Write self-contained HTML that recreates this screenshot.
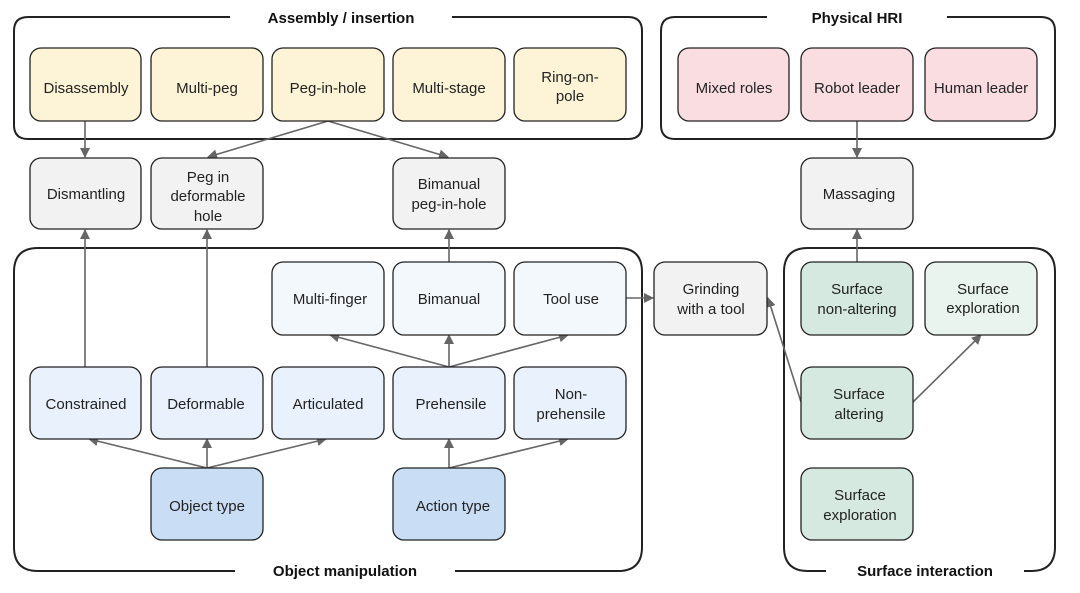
<!DOCTYPE html>
<html><head><meta charset="utf-8"><style>
html,body{margin:0;padding:0;background:#fff;}
svg{display:block;font-family:"Liberation Sans",Arial,sans-serif;}
.n{stroke:#222;stroke-width:1.3;}
.t{font-size:15px;fill:#222;text-anchor:middle;}
.h{font-size:15px;font-weight:bold;fill:#111;text-anchor:middle;}
.g{stroke:#222;stroke-width:2;fill:none;}
.a{stroke:#666;stroke-width:1.6;fill:none;marker-end:url(#ar);}
</style></head><body>
<svg width="1080" height="593" viewBox="0 0 1080 593">
<defs><marker id="ar" markerWidth="10" markerHeight="10" refX="9" refY="5" orient="auto" markerUnits="userSpaceOnUse"><path d="M0,0 L10,5 L0,10 z" fill="#666"/></marker></defs>
<!-- group boxes -->
<path class="g" d="M230,17 H28 Q14,17 14,31 V125 Q14,139 28,139 H628 Q642,139 642,125 V31 Q642,17 628,17 H452"/>
<text class="h" x="341" y="23">Assembly / insertion</text>
<path class="g" d="M767,17 H675 Q661,17 661,31 V125 Q661,139 675,139 H1041 Q1055,139 1055,125 V31 Q1055,17 1041,17 H947"/>
<text class="h" x="857" y="23">Physical HRI</text>
<path class="g" d="M235,571 H38 Q14,571 14,547 V272 Q14,248 38,248 H618 Q642,248 642,272 V547 Q642,571 618,571 H455"/>
<text class="h" x="345" y="576">Object manipulation</text>
<path class="g" d="M826,571 H808 Q784,571 784,547 V272 Q784,248 808,248 H1031 Q1055,248 1055,272 V547 Q1055,571 1031,571 H1024"/>
<text class="h" x="925" y="576">Surface interaction</text>
<!-- connectors -->
<path class="a" d="M85,121 V157"/>
<path class="a" d="M328,121 L208,157"/>
<path class="a" d="M328,121 L448,157"/>
<path class="a" d="M857,121 V157"/>
<path class="a" d="M85,367 V230"/>
<path class="a" d="M207,367 V230"/>
<path class="a" d="M449,262 V230"/>
<path class="a" d="M857,262 V230"/>
<path class="a" d="M449,367 L330,335"/>
<path class="a" d="M449,367 V335"/>
<path class="a" d="M449,367 L568,335"/>
<path class="a" d="M207,468 L89,439"/>
<path class="a" d="M207,468 V439"/>
<path class="a" d="M207,468 L326,439"/>
<path class="a" d="M449,468 V439"/>
<path class="a" d="M449,468 L568,439"/>
<path class="a" d="M626,298 H653"/>
<path class="a" d="M801,402 L768,298"/>
<path class="a" d="M913,402 L981,335"/>
<!-- nodes -->
<g class="n">
<rect x="30" y="48" width="111" height="73" rx="11" fill="#fdf3d6"/>
<rect x="151" y="48" width="112" height="73" rx="11" fill="#fdf3d6"/>
<rect x="272" y="48" width="112" height="73" rx="11" fill="#fdf3d6"/>
<rect x="393" y="48" width="112" height="73" rx="11" fill="#fdf3d6"/>
<rect x="514" y="48" width="112" height="73" rx="11" fill="#fdf3d6"/>
<rect x="678" y="48" width="111" height="73" rx="11" fill="#f9dde1"/>
<rect x="801" y="48" width="112" height="73" rx="11" fill="#f9dde1"/>
<rect x="925" y="48" width="112" height="73" rx="11" fill="#f9dde1"/>
<rect x="30" y="158" width="111" height="71" rx="11" fill="#f2f2f2"/>
<rect x="151" y="158" width="112" height="71" rx="11" fill="#f2f2f2"/>
<rect x="393" y="158" width="112" height="71" rx="11" fill="#f2f2f2"/>
<rect x="801" y="158" width="112" height="71" rx="11" fill="#f2f2f2"/>
<rect x="272" y="262" width="112" height="73" rx="11" fill="#f3f8fd"/>
<rect x="393" y="262" width="112" height="73" rx="11" fill="#f3f8fd"/>
<rect x="514" y="262" width="112" height="73" rx="11" fill="#f3f8fd"/>
<rect x="654" y="262" width="113" height="73" rx="11" fill="#f2f2f2"/>
<rect x="801" y="262" width="112" height="73" rx="11" fill="#d5e9e0"/>
<rect x="925" y="262" width="112" height="73" rx="11" fill="#e9f4ef"/>
<rect x="30" y="367" width="111" height="72" rx="11" fill="#e8f1fc"/>
<rect x="151" y="367" width="112" height="72" rx="11" fill="#e8f1fc"/>
<rect x="272" y="367" width="112" height="72" rx="11" fill="#e8f1fc"/>
<rect x="393" y="367" width="112" height="72" rx="11" fill="#e8f1fc"/>
<rect x="514" y="367" width="112" height="72" rx="11" fill="#e8f1fc"/>
<rect x="801" y="367" width="112" height="72" rx="11" fill="#d5e9e0"/>
<rect x="151" y="468" width="112" height="72" rx="11" fill="#c9ddf4"/>
<rect x="393" y="468" width="112" height="72" rx="11" fill="#c9ddf4"/>
<rect x="801" y="468" width="112" height="72" rx="11" fill="#d5e9e0"/>
</g>
<g class="t">
<text x="86" y="93">Disassembly</text>
<text x="207" y="93">Multi-peg</text>
<text x="328" y="93">Peg-in-hole</text>
<text x="449" y="93">Multi-stage</text>
<text x="570" y="82">Ring-on-</text><text x="570" y="101">pole</text>
<text x="734" y="93">Mixed roles</text>
<text x="857" y="93">Robot leader</text>
<text x="981" y="93">Human leader</text>
<text x="86" y="199">Dismantling</text>
<text x="208" y="182">Peg in</text><text x="208" y="201">deformable</text><text x="208" y="221">hole</text>
<text x="449" y="189">Bimanual</text><text x="449" y="209">peg-in-hole</text>
<text x="859" y="199">Massaging</text>
<text x="330" y="304">Multi-finger</text>
<text x="449" y="304">Bimanual</text>
<text x="571" y="304">Tool use</text>
<text x="711" y="294">Grinding</text><text x="711" y="314">with a tool</text>
<text x="857" y="294">Surface</text><text x="857" y="314">non-altering</text>
<text x="983" y="294">Surface</text><text x="983" y="313">exploration</text>
<text x="86" y="409">Constrained</text>
<text x="206" y="409">Deformable</text>
<text x="328" y="409">Articulated</text>
<text x="451" y="409">Prehensile</text>
<text x="571" y="399">Non-</text><text x="571" y="419">prehensile</text>
<text x="859" y="399">Surface</text><text x="859" y="419">altering</text>
<text x="207" y="511">Object type</text>
<text x="453" y="511">Action type</text>
<text x="860" y="500">Surface</text><text x="860" y="520">exploration</text>
</g>
</svg>
</body></html>
